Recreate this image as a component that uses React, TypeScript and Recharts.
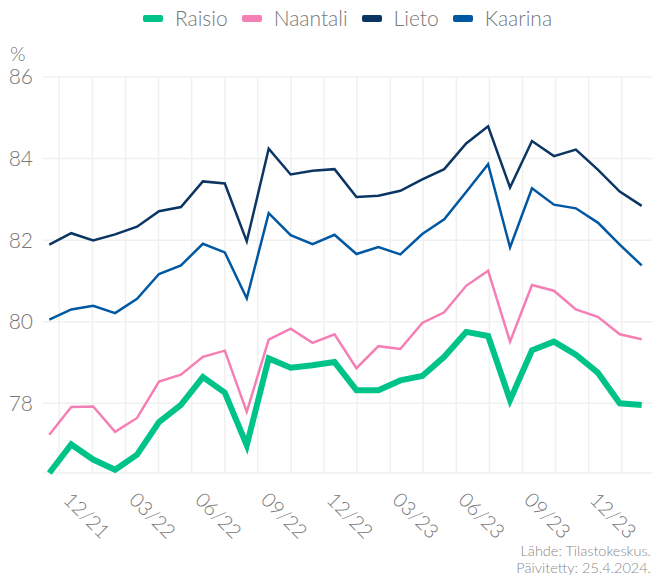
import { LineChart, Line, XAxis, YAxis, CartesianGrid } from 'recharts'

// kuukaudet 11/21 - 02/24
const months = [
  '11/21', '12/21', '01/22', '02/22', '03/22', '04/22', '05/22', '06/22', '07/22', '08/22',
  '09/22', '10/22', '11/22', '12/22', '01/23', '02/23', '03/23', '04/23', '05/23', '06/23',
  '07/23', '08/23', '09/23', '10/23', '11/23', '12/23', '01/24', '02/24',
]

const raisio = [
  76.29, 76.99, 76.62, 76.37, 76.74, 77.54, 77.96, 78.64, 78.26, 76.97,
  79.1, 78.87, 78.93, 79.01, 78.32, 78.32, 78.56, 78.67, 79.14, 79.75,
  79.65, 78.08, 79.3, 79.51, 79.19, 78.75, 78.0, 77.96,
]
const naantali = [
  77.23, 77.91, 77.92, 77.3, 77.64, 78.53, 78.7, 79.14, 79.29, 77.79,
  79.56, 79.83, 79.48, 79.69, 78.86, 79.4, 79.33, 79.97, 80.23, 80.88,
  81.25, 79.51, 80.9, 80.76, 80.3, 80.12, 79.69, 79.57,
]
const lieto = [
  81.89, 82.17, 81.99, 82.14, 82.33, 82.71, 82.81, 83.44, 83.39, 81.97,
  84.24, 83.61, 83.7, 83.74, 83.06, 83.09, 83.21, 83.49, 83.74, 84.37,
  84.79, 83.29, 84.43, 84.06, 84.22, 83.73, 83.19, 82.84,
]
const kaarina = [
  80.05, 80.3, 80.39, 80.21, 80.56, 81.17, 81.38, 81.91, 81.7, 80.57,
  82.66, 82.12, 81.9, 82.13, 81.66, 81.83, 81.65, 82.15, 82.51, 83.18,
  83.86, 81.82, 83.27, 82.87, 82.78, 82.43, 81.89, 81.38,
]

const labelMonths = ['12/21', '03/22', '06/22', '09/22', '12/22', '03/23', '06/23', '09/23', '12/23']
const yTicks = [78, 80, 82, 84, 86]
const footer = ['Lähde: Tilastokeskus.', 'Päivitetty: 25.4.2024.']

const series = [
  { key: 'raisio', name: 'Raisio', color: '#00c389', width: 6 },
  { key: 'naantali', name: 'Naantali', color: '#f57fb5', width: 2.5 },
  { key: 'lieto', name: 'Lieto', color: '#0b3563', width: 2.5 },
  { key: 'kaarina', name: 'Kaarina', color: '#0058a3', width: 2.5 },
]

const data = months.map((m, i) => ({
  i,
  month: m,
  raisio: raisio[i],
  naantali: naantali[i],
  lieto: lieto[i],
  kaarina: kaarina[i],
}))

const labelTicks = labelMonths.map((m) => months.indexOf(m))
const xDomain: [number, number] = [-0.287, 27.47]

// pystyviivat n. 1,5 kk välein
const gridTicks: number[] = []
for (let k = 0; k < 18; k++) gridTicks.push(0.456 + k * 1.508)

const FONT = 'Lato, "Open Sans", sans-serif'
const GRAY = '#777'

function gridX({ offset }: any) {
  return gridTicks.map(
    (t) => offset.left + ((t - xDomain[0]) / (xDomain[1] - xDomain[0])) * offset.width
  )
}

function MonthTick(props: any) {
  const { x, y, payload } = props
  return (
    <g transform={`translate(${x - 9},${y + 20})`}>
      <text
        x={0}
        y={0}
        transform="rotate(45)"
        textAnchor="start"
        fill={GRAY}
        fontSize={20}
        fontWeight={300}
        fontFamily={FONT}
      >
        {months[payload.value]}
      </text>
    </g>
  )
}

function ChartLegend() {
  return (
    <div
      style={{
        position: 'absolute',
        top: 5,
        left: 43,
        width: 609,
        display: 'flex',
        justifyContent: 'center',
        alignItems: 'center',
        fontFamily: FONT,
        fontWeight: 300,
        fontSize: 21,
        lineHeight: '26px',
        color: GRAY,
      }}
    >
      {series.map((s, idx) => (
        <div
          key={s.key}
          style={{ display: 'flex', alignItems: 'center', marginLeft: idx === 0 ? 0 : 14 }}
        >
          <span
            style={{
              display: 'inline-block',
              width: 20,
              height: 7,
              borderRadius: 2,
              background: s.color,
              marginRight: 12,
            }}
          />
          <span>{s.name}</span>
        </div>
      ))}
    </div>
  )
}

export default function App() {
  return (
    <div style={{ position: 'absolute', left: 0, top: 0, width: 652, height: 579, background: '#fff' }}>
      <LineChart width={652} height={579} data={data} margin={{ top: 77, right: 0, bottom: 0, left: 0 }}>
        <CartesianGrid stroke="#f0f0f0" strokeWidth={1.5} verticalCoordinatesGenerator={gridX} />
        <XAxis
          type="number"
          dataKey="i"
          domain={xDomain}
          ticks={labelTicks}
          interval={0}
          axisLine={false}
          tickLine={false}
          height={106}
          tick={<MonthTick />}
        />
        <YAxis
          type="number"
          domain={[76.29, 86]}
          ticks={yTicks}
          interval={0}
          width={43}
          axisLine={false}
          tickLine={false}
          tickMargin={4}
          tick={{ fill: GRAY, fontSize: 21, fontWeight: 300, fontFamily: FONT }}
        />
        {series.map((s) => (
          <Line
            key={s.key}
            type="linear"
            dataKey={s.key}
            name={s.name}
            stroke={s.color}
            strokeWidth={s.width}
            dot={false}
            activeDot={false}
            isAnimationActive={false}
          />
        ))}
      </LineChart>
      <ChartLegend />
      <div
        style={{
          position: 'absolute',
          left: 10,
          top: 44,
          fontFamily: FONT,
          fontWeight: 300,
          fontSize: 20,
          lineHeight: '18px',
          color: GRAY,
        }}
      >
        %
      </div>
      {footer.map((t, idx) => (
        <div
          key={t}
          style={{
            position: 'absolute',
            right: 1,
            top: 543 + idx * 17,
            textAlign: 'right',
            whiteSpace: 'nowrap',
            fontFamily: FONT,
            fontWeight: 300,
            fontSize: 14.5,
            lineHeight: '16px',
            color: '#888',
          }}
        >
          {t}
        </div>
      ))}
    </div>
  )
}
